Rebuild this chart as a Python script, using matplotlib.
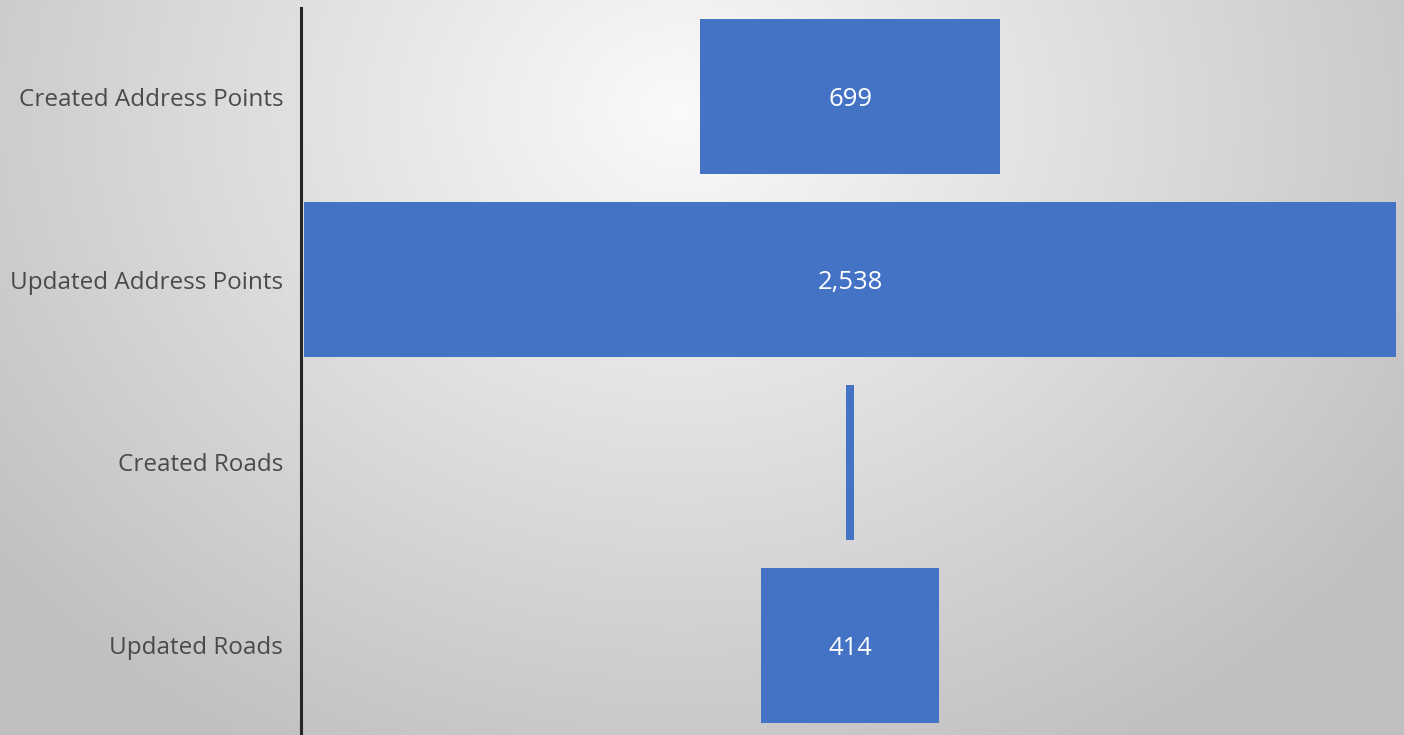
import numpy as np
import matplotlib
matplotlib.use("Agg")
import matplotlib.pyplot as plt

categories = ["Created Address Points", "Updated Address Points", "Created Roads", "Updated Roads"]
values = [699, 2538, 18, 414]
labels = ["699", "2,538", "", "414"]

plt.rcParams['font.family'] = ['Open Sans', 'DejaVu Sans']

fig = plt.figure(figsize=(14.04, 7.35), dpi=100)

# radial gradient background
bg = fig.add_axes([0, 0, 1, 1], zorder=-10)
yy, xx = np.mgrid[0:735, 0:1404]
cx, cy = 680, 110
r = np.sqrt(((xx - cx) / 1550) ** 2 + ((yy - cy) / 1300) ** 2)
g = 0.98 - 0.40 * r
g = np.clip(g, 0.75, 0.98)
bg.imshow(np.dstack([g, g, g]), aspect='auto', extent=[0, 1, 0, 1], origin='upper')
bg.axis('off')

ax = fig.add_axes([304 / 1404, 0, 1092 / 1404, (735 - 8) / 735])
ax.patch.set_alpha(0)
ypos = np.arange(len(categories))
vals = np.array(values, dtype=float)
ax.barh(ypos, vals, left=-vals / 2, height=0.85, color='#4472C4')
for y, v, lab in zip(ypos, vals, labels):
    if lab:
        ax.text(0, y, lab, ha='center', va='center_baseline', color='white', fontsize=18.5)
half = max(values) / 2
ax.set_xlim(-half, half)
ax.set_ylim(3.49, -0.485)
ax.set_yticks(ypos)
ax.set_yticklabels(categories)
ax.tick_params(axis='y', length=0, pad=13, labelsize=17.5, labelcolor='#4a4a4a')
ax.set_xticks([])
for s in ['top', 'right', 'bottom']:
    ax.spines[s].set_visible(False)
ax.spines['left'].set_position(('outward', 2))
ax.spines['left'].set_linewidth(2.2)
ax.spines['left'].set_color('#262626')

fig.savefig("out.png", dpi=100)
